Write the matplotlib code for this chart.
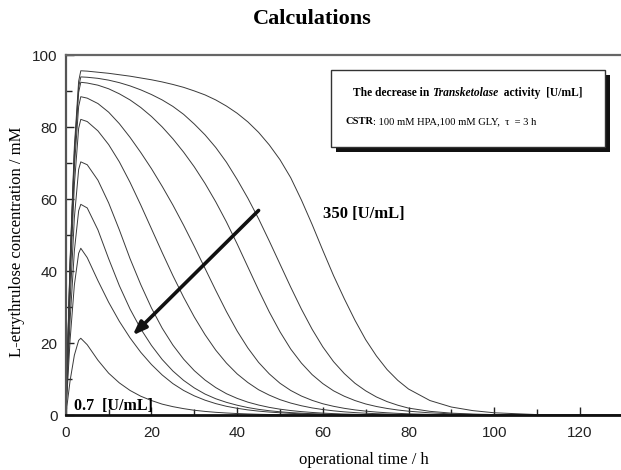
import matplotlib
matplotlib.use("Agg")
import matplotlib.pyplot as plt
from matplotlib.patches import Rectangle
from matplotlib.offsetbox import TextArea, HPacker, AnchoredOffsetbox

# ---------------- data ----------------
t_h = [0, 1, 2, 3, 3.5, 5, 7.5, 10, 12.5, 15, 17.5, 20, 22.5, 25, 27.5, 30, 32.5, 35,
       37.5, 40, 42.5, 45, 47.5, 50, 52.5, 55, 57.5, 60, 62.5, 65, 67.5, 70, 72.5,
       75, 77.5, 80, 85, 90, 95, 100, 110, 120, 130]

curve_1 = [0, 9.6, 16.7, 20.8, 21.4, 19.6, 15.3, 11.7, 9.0, 6.9, 5.3, 4.1, 3.1, 2.4, 1.85,
           1.4, 1.08, 0.83, 0.64, 0.49, 0.38, 0.29, 0.22, 0.17, 0.13, 0.1, 0.08, 0.06,
           0.045, 0.035, 0.027, 0.02, 0.015, 0.012, 0.009, 0.007, 0.004, 0.002, 0.001,
           0, 0, 0, 0]
curve_2 = [0, 20.9, 36.2, 45.0, 46.4, 43.8, 37.4, 31.4, 26.1, 21.5, 17.5, 14.1, 11.2, 8.8,
           6.9, 5.4, 4.2, 3.25, 2.5, 1.95, 1.5, 1.16, 0.9, 0.7, 0.54, 0.42, 0.32, 0.25,
           0.19, 0.15, 0.11, 0.09, 0.07, 0.05, 0.04, 0.03, 0.02, 0.01, 0.005, 0, 0, 0, 0]
curve_3 = [0, 26.4, 45.7, 56.8, 58.6, 57.6, 51.5, 43.5, 36.0, 29.5, 24.0, 19.4, 15.5, 12.3,
           9.7, 7.6, 5.9, 4.6, 3.6, 2.8, 2.15, 1.65, 1.27, 0.98, 0.75, 0.58, 0.44, 0.34,
           0.26, 0.2, 0.15, 0.12, 0.09, 0.07, 0.05, 0.04, 0.02, 0.01, 0.005, 0, 0, 0, 0]
curve_4 = [0, 31.7, 54.9, 68.3, 70.4, 69.6, 65.3, 59.0, 51.5, 43.5, 36.3, 29.8, 24.2, 19.5,
           15.6, 12.4, 9.8, 7.7, 6.0, 4.7, 3.65, 2.85, 2.2, 1.7, 1.32, 1.02, 0.79, 0.61,
           0.47, 0.36, 0.28, 0.21, 0.16, 0.12, 0.09, 0.07, 0.04, 0.02, 0.01, 0.005, 0, 0, 0]
curve_5 = [0, 37.0, 64.1, 79.7, 82.2, 81.6, 79.0, 75.2, 70.4, 64.7, 58.4, 51.8, 45.2, 38.8,
           32.8, 27.3, 22.4, 18.1, 14.5, 11.5, 9.1, 7.1, 5.6, 4.35, 3.4, 2.65, 2.05, 1.6,
           1.24, 0.96, 0.75, 0.58, 0.45, 0.35, 0.27, 0.21, 0.13, 0.08, 0.05, 0.03, 0.01, 0, 0]
curve_6 = [0, 39.8, 69.0, 85.8, 88.5, 88.1, 86.6, 84.2, 81.0, 77.2, 73.0, 68.5, 63.6, 58.4,
           52.8, 46.9, 40.8, 34.7, 28.8, 23.4, 18.7, 14.7, 11.5, 8.9, 6.9, 5.35, 4.15, 3.2,
           2.5, 1.94, 1.5, 1.16, 0.9, 0.7, 0.54, 0.42, 0.25, 0.15, 0.09, 0.05, 0.02, 0.01, 0]
curve_7 = [0, 41.6, 72.2, 89.7, 92.5, 92.3, 91.7, 90.7, 89.3, 87.6, 85.5, 83.0, 80.1, 76.8,
           73.1, 69.0, 64.4, 59.3, 53.7, 47.6, 41.2, 34.8, 28.7, 23.2, 18.4, 14.5, 11.3, 8.8,
           6.8, 5.3, 4.1, 3.15, 2.45, 1.9, 1.47, 1.14, 0.68, 0.4, 0.24, 0.14, 0.05, 0.02, 0.01]
curve_8 = [0, 42.3, 73.3, 91.2, 94.0, 93.9, 93.6, 93.1, 92.4, 91.5, 90.4, 89.1, 87.6, 85.8,
           83.6, 80.9, 77.9, 74.4, 70.3, 65.5, 60.3, 54.6, 48.4, 42.0, 35.6, 29.5, 23.9, 19.0,
           14.9, 11.6, 8.9, 6.8, 5.1, 3.8, 2.8, 2.0, 1.1, 0.6, 0.35, 0.2, 0.07, 0.03, 0.01]
curve_9 = [0, 43.1, 74.6, 92.8, 95.7, 95.6, 95.3, 95.0, 94.6, 94.2, 93.7, 93.2, 92.6, 91.9,
           91.1, 90.1, 89.0, 87.6, 85.9, 83.9, 81.5, 78.6, 75.1, 71.0, 66.0, 59.8, 53.0, 45.8,
           38.8, 32.4, 26.4, 21.0, 16.5, 12.7, 9.7, 7.3, 4.1, 2.3, 1.3, 0.7, 0.2, 0.06, 0.02]

curves = [curve_1, curve_2, curve_3, curve_4, curve_5, curve_6, curve_7, curve_8, curve_9]

x_ticks = [0, 20, 40, 60, 80, 100, 120]
y_ticks = [0, 20, 40, 60, 80, 100]

title = "Calculations"
xlabel = "operational time / h"
ylabel = "L-etrythrulose concentration / mM"
label_high = "350 [U/mL]"
label_low = "0.7  [U/mL]"

# ---------------- figure ----------------
SERIF = "Liberation Serif"
SANS = "Liberation Sans"
W, H = 621.0, 470.0

fig = plt.figure(figsize=(6.21, 4.70), dpi=100)
ax = fig.add_axes([65.8 / W, 1 - 415.3 / H, 1 - 65.8 / W, 360 / H])

for c in curves:
    ax.plot(t_h, c, color="#3a3a3a", lw=0.7, solid_joinstyle="round")

ax.set_xlim(0, 129.6)
ax.set_ylim(0, 100)
ax.set_xticks(x_ticks)
ax.set_yticks(y_ticks)
ax.set_xticks(range(10, 130, 20), minor=True)
ax.set_yticks(range(10, 100, 20), minor=True)
ax.tick_params(which="both", direction="in", top=False, right=False,
               labelsize=11, width=1.0, color="#222222")
ax.tick_params(which="major", length=6)
ax.tick_params(which="minor", length=4)
ax.tick_params(axis="y", pad=6)
ax.tick_params(axis="x", pad=8)
for lab in ax.get_xticklabels() + ax.get_yticklabels():
    lab.set_fontfamily(SANS)
    lab.set_color("#222222")

ax.spines["right"].set_visible(False)
ax.spines["left"].set_color("#555555")
ax.spines["left"].set_linewidth(1.6)
ax.spines["top"].set_color("#666666")
ax.spines["top"].set_linewidth(1.6)
ax.spines["bottom"].set_color("#111111")
ax.spines["bottom"].set_linewidth(2.0)

fig.text(364 / W, 1 - 460 / H, xlabel, family=SERIF, fontsize=12,
         ha="center", va="center")
fig.text(17.5 / W, 1 - 242 / H, ylabel, family=SERIF, fontsize=12,
         ha="center", va="center", rotation=90)
fig.text(312 / W, 1 - 19 / H, title, family=SERIF, fontsize=16, fontweight="bold",
         ha="center", va="center")

# arrow
ax.annotate("", xy=(15.6, 22.2), xytext=(45.0, 56.9),
            arrowprops=dict(arrowstyle="-|>,head_length=0.8,head_width=0.3",
                            color="#111111", lw=2.6, shrinkA=0, shrinkB=0))

ax.text(60.0, 55.8, label_high, family=SERIF, fontsize=12, fontweight="bold",
        ha="left", va="center")
ax.text(1.9, 2.5, label_low, family=SERIF, fontsize=11.5, fontweight="bold",
        ha="left", va="center")

# text box with shadow (figure pixel coords)
bx0, by0, bx1, by1 = 331, 70, 605, 147
sh = 5
fig.patches.append(Rectangle(((bx0 + sh) / W, 1 - (by1 + sh) / H), (bx1 - bx0) / W,
                             (by1 - by0) / H, transform=fig.transFigure,
                             facecolor="#111111", edgecolor="none", zorder=5))
fig.patches.append(Rectangle((bx0 / W, 1 - by1 / H), (bx1 - bx0) / W, (by1 - by0) / H,
                             transform=fig.transFigure, facecolor="white",
                             edgecolor="#333333", lw=1.0, zorder=6))


def line(pieces, x, y):
    areas = [TextArea(s, textprops=dict(family=SERIF, **kw)) for s, kw in pieces]
    box = HPacker(children=areas, align="baseline", pad=0, sep=0)
    ab = AnchoredOffsetbox(loc="center left", child=box, pad=0, borderpad=0,
                           frameon=False, bbox_to_anchor=(x, y),
                           bbox_transform=fig.transFigure)
    ab.set_zorder(8)
    fig.add_artist(ab)


line([("The decrease in ", dict(fontsize=8.3, fontweight="bold")),
      ("Transketolase", dict(fontsize=8.3, fontweight="bold", fontstyle="italic")),
      ("  activity  [U/mL]", dict(fontsize=8.3, fontweight="bold"))],
     353 / W, 1 - 93 / H)
line([("CSTR", dict(fontsize=7.6, fontweight="bold")),
      (": 100 mM HPA,100 mM GLY,  \u03c4  = 3 h", dict(fontsize=7.6))],
     345 / W, 1 - 122 / H)

fig.savefig("out.png", dpi=100)
